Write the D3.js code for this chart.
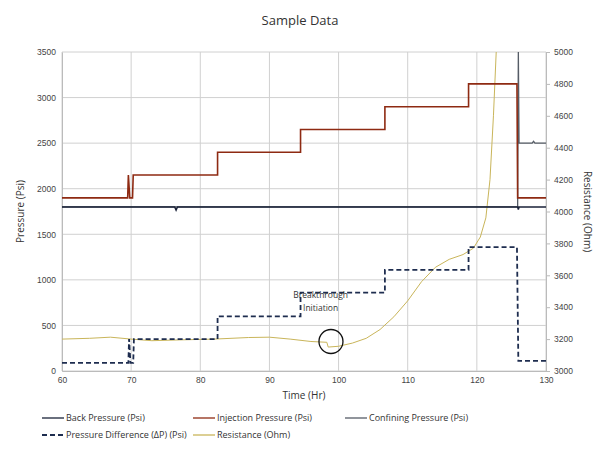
<!DOCTYPE html>
<html><head><meta charset="utf-8">
<script src="https://cdn.jsdelivr.net/npm/d3@7"></script>
<style>body{margin:0;background:#fff;font-family:"Open Sans",sans-serif}</style>
</head><body>
<div id="chart"></div>
<script>
// Series (x = time in hours)
const backPressure = [[60,1800],[76.3,1800],[76.5,1765],[76.7,1800],[125.9,1800],[126,1770],[126.1,1800],[130,1800]];
const injectionPressure = [[60,1900],[69.5,1900],[69.6,2150],[69.8,1900],[70.2,1900],[70.3,2150],[82.5,2150],[82.5,2400],[94.5,2400],[94.5,2650],[106.7,2650],[106.7,2900],[118.8,2900],[118.8,3150],[125.8,3150],[125.9,1900],[130,1900]];
const confiningPressure = [[60,1800],[125.9,1800],[126,3500],[126.1,2500],[128,2500],[128.2,2520],[128.4,2500],[130,2500]];
const pressureDiff = [[60,90],[69.6,90],[69.7,350],[69.9,90],[70.3,90],[70.4,350],[82.5,350],[82.5,600],[94.5,600],[94.5,860],[106.7,860],[106.7,1110],[118.8,1110],[118.8,1360],[125.8,1360],[126,110],[130,110]];
const resistance = [[60,3200],[64,3205],[67,3212],[70,3200],[73,3190],[77,3195],[82,3200],[87,3210],[90,3212],[93,3200],[96,3185],[98.3,3180],[98.5,3150],[100,3155],[102,3175],[104,3205],[106,3260],[108,3340],[110,3440],[112,3560],[114,3650],[116,3700],[118,3730],[119.5,3770],[120.5,3840],[121.3,3960],[121.9,4200],[122.4,4600],[122.8,5000]];
const xTicks = d3.range(60, 131, 10);
const yLeftTicks = d3.range(0, 3501, 500);
const yRightTicks = d3.range(3000, 5001, 200);

const W = 596, H = 455;
const m = {left: 62, right: 50, top: 52, bottom: 84};
const svg = d3.select('#chart').append('svg').attr('width', W).attr('height', H);

const x = d3.scaleLinear().domain([60, 130]).range([m.left, W - m.right]);
const yL = d3.scaleLinear().domain([0, 3500]).range([H - m.bottom, m.top]);
const yR = d3.scaleLinear().domain([3000, 5000]).range([H - m.bottom, m.top]);
const fmt = d3.format('d');

// Grid
svg.append('g').selectAll('line').data(xTicks).join('line')
    .attr('x1', d => x(d)).attr('x2', d => x(d)).attr('y1', yL(0)).attr('y2', yL(3500))
    .attr('stroke', '#d0d0d0');
svg.append('g').selectAll('line').data(yLeftTicks).join('line')
    .attr('x1', x(60)).attr('x2', x(130)).attr('y1', d => yL(d)).attr('y2', d => yL(d))
    .attr('stroke', '#d0d0d0');

// Axes
const styleAxis = g => {
    g.select('.domain').attr('stroke', '#bbb');
    g.selectAll('.tick line').attr('stroke', '#bbb');
    g.selectAll('text').attr('fill', '#444').attr('font-size', 8.5);
};
svg.append('g').attr('transform', `translate(0,${yL(0)})`)
    .call(d3.axisBottom(x).tickValues(xTicks).tickFormat(fmt).tickSize(0).tickPadding(6)).call(styleAxis);
svg.append('g').attr('transform', `translate(${m.left},0)`)
    .call(d3.axisLeft(yL).tickValues(yLeftTicks).tickFormat(fmt).tickSize(0).tickPadding(6)).call(styleAxis);
svg.append('g').attr('transform', `translate(${W - m.right},0)`)
    .call(d3.axisRight(yR).tickValues(yRightTicks).tickFormat(fmt).tickSize(4).tickPadding(4)).call(styleAxis);

// Lines
const lineL = d3.line().x(d => x(d[0])).y(d => yL(d[1]));
const lineR = d3.line().x(d => x(d[0])).y(d => yR(d[1]));
const plot = svg.append('g');
plot.append('path').datum(resistance).attr('d', lineR).attr('fill', 'none').attr('stroke', '#c9b55a').attr('stroke-width', 1);
plot.append('path').datum(pressureDiff).attr('d', lineL).attr('fill', 'none').attr('stroke', '#1e2d4f').attr('stroke-width', 1.8).attr('stroke-dasharray', '5,3');
plot.append('path').datum(confiningPressure).attr('d', lineL).attr('fill', 'none').attr('stroke', '#555c66').attr('stroke-width', 1.3);
plot.append('path').datum(backPressure).attr('d', lineL).attr('fill', 'none').attr('stroke', '#1a2238').attr('stroke-width', 1.5);
plot.append('path').datum(injectionPressure).attr('d', lineL).attr('fill', 'none').attr('stroke', '#8e2a12').attr('stroke-width', 1.6);

// Annotation
svg.append('circle').attr('cx', x(98.9)).attr('cy', yR(3185)).attr('r', 12)
    .attr('fill', 'none').attr('stroke', '#111').attr('stroke-width', 1.3);
svg.append('text').attr('x', x(97.4)).attr('y', yL(800)).attr('text-anchor', 'middle')
    .attr('font-size', 8.5).attr('fill', '#333')
    .selectAll('tspan').data(['Breakthrough', 'Initiation']).join('tspan')
    .attr('x', x(97.4)).attr('dy', (d, i) => i ? 13 : 0).text(d => d);

// Titles
svg.append('text').attr('x', 300).attr('y', 25).attr('text-anchor', 'middle')
    .attr('font-size', 13).attr('fill', '#333').text('Sample Data');
svg.append('text').attr('x', (x(60) + x(130)) / 2).attr('y', yL(0) + 28).attr('text-anchor', 'middle')
    .attr('font-size', 10).attr('fill', '#333').text('Time (Hr)');
svg.append('text').attr('transform', `translate(24,${(yL(0) + yL(3500)) / 2}) rotate(-90)`)
    .attr('text-anchor', 'middle').attr('font-size', 10).attr('fill', '#333').text('Pressure (Psi)');
svg.append('text').attr('transform', `translate(${W - 12},${(yL(0) + yL(3500)) / 2}) rotate(90)`)
    .attr('text-anchor', 'middle').attr('font-size', 10).attr('fill', '#333').text('Resistance  (Ohm)');

// Legend
const legendItems = [
    {label: 'Back Pressure  (Psi)', color: '#1a2238', dash: null, x: 42, y: 418},
    {label: 'Injection Pressure  (Psi)', color: '#8e2a12', dash: null, x: 193, y: 418},
    {label: 'Confining Pressure  (Psi)', color: '#555c66', dash: null, x: 345, y: 418},
    {label: 'Pressure Difference (\u0394P) (Psi)', color: '#1e2d4f', dash: '5,3', x: 42, y: 435},
    {label: 'Resistance  (Ohm)', color: '#c9b55a', dash: null, x: 193, y: 435}
];
const lg = svg.append('g').selectAll('g').data(legendItems).join('g')
    .attr('transform', d => `translate(${d.x},${d.y})`);
lg.append('line').attr('x1', 0).attr('x2', 22).attr('stroke', d => d.color)
    .attr('stroke-width', d => d.dash ? 1.8 : 1.3).attr('stroke-dasharray', d => d.dash);
lg.append('text').attr('x', 24).attr('dy', '0.35em').attr('font-size', 9).attr('fill', '#333').text(d => d.label);
</script>
</body></html>
